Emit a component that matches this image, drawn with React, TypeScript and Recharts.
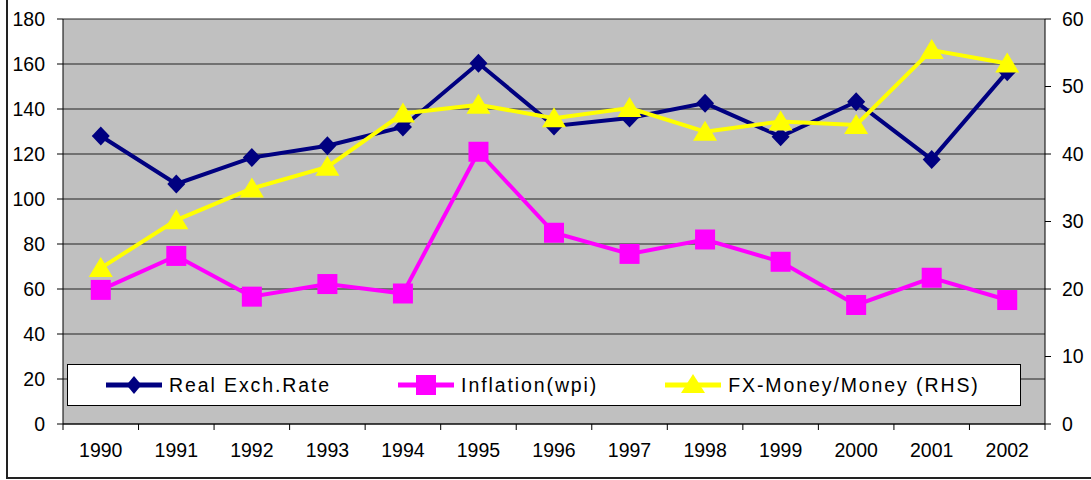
import { CartesianGrid, Legend, Line, LineChart, XAxis, YAxis } from "recharts";

const years = ["1990", "1991", "1992", "1993", "1994", "1995", "1996", "1997", "1998", "1999", "2000", "2001", "2002"];
const realExchRate = [128, 106.7, 118.4, 123.7, 132, 160.3, 132.5, 136, 142.6, 127.7, 143.2, 117.6, 156.6];
const inflation = [59.6, 74.7, 56.6, 62.2, 58, 121, 85, 75.6, 82, 72.1, 52.9, 65, 55.1];
const fxMoney = [23.1, 30.2, 34.9, 38.1, 46, 47.3, 45.3, 46.8, 43.3, 44.8, 44.3, 55.4, 53.4];
const leftTicks = [0, 20, 40, 60, 80, 100, 120, 140, 160, 180];
const rightTicks = [0, 10, 20, 30, 40, 50, 60];

const seriesNames = ["Real Exch.Rate", "Inflation(wpi)", "FX-Money/Money (RHS)"];

const data = years.map((year, i) => ({
  year,
  real: realExchRate[i],
  infl: inflation[i],
  fx: fxMoney[i],
}));

const FONT = "Arial, 'Liberation Sans', sans-serif";
const PLOT_W = 1091 - 63 - 46;
const BAND = PLOT_W / years.length;

const Diamond = (props: any) => {
  const { cx, cy, index } = props;
  if (cx == null || cy == null) return <g key={`d${index}`} />;
  return (
    <path
      key={`d${index}`}
      d={`M${cx},${cy - 9.5}L${cx + 9},${cy}L${cx},${cy + 9.5}L${cx - 9},${cy}Z`}
      fill="#000080"
    />
  );
};

const Square = (props: any) => {
  const { cx, cy, index } = props;
  if (cx == null || cy == null) return <g key={`s${index}`} />;
  return <rect key={`s${index}`} x={cx - 10} y={cy - 10} width={20} height={20} fill="#ff00ff" />;
};

const Triangle = (props: any) => {
  const { cx, cy, index } = props;
  if (cx == null || cy == null) return <g key={`t${index}`} />;
  return (
    <path
      key={`t${index}`}
      d={`M${cx},${cy - 11}L${cx + 12},${cy + 9}L${cx - 12},${cy + 9}Z`}
      fill="#ffff00"
    />
  );
};

const YearTick = (props: any) => {
  const { x, y, payload, index } = props;
  const left = x - BAND / 2;
  return (
    <g>
      <line x1={left} y1={y} x2={left} y2={y + 6} stroke="#000" />
      {index === years.length - 1 && (
        <line x1={x + BAND / 2} y1={y} x2={x + BAND / 2} y2={y + 6} stroke="#000" />
      )}
      <text x={x} y={y + 33} textAnchor="middle" fill="#000" fontSize={19.5} fontFamily={FONT}>
        {payload.value}
      </text>
    </g>
  );
};

const markers = [
  <path d="M28,-1L35.5,8L28,17L20.5,8Z" fill="#000080" />,
  <rect x={18} y={-2} width={20} height={20} fill="#ff00ff" />,
  <path d="M28,-3L40,16L16,16Z" fill="#ffff00" />,
];
const colors = ["#000080", "#ff00ff", "#ffff00"];

const LegendBox = () => (
  <div
    style={{
      width: 954,
      height: 42,
      border: "1px solid #000",
      background: "#fff",
      display: "flex",
      alignItems: "center",
      paddingLeft: 38,
      boxSizing: "border-box",
      fontFamily: FONT,
      fontSize: 19.5,
      letterSpacing: 1.9,
      color: "#000",
    }}
  >
    {seriesNames.map((name, i) => (
      <div key={name} style={{ display: "flex", alignItems: "center", marginRight: 67 }}>
        <svg width={56} height={16} style={{ overflow: "visible" }}>
          <line x1={0} y1={8} x2={56} y2={8} stroke={colors[i]} strokeWidth={5} />
          {markers[i]}
        </svg>
        <span style={{ marginLeft: 7, whiteSpace: "nowrap" }}>{name}</span>
      </div>
    ))}
  </div>
);

export default function App() {
  return (
    <div style={{ position: "absolute", left: 0, top: 0, width: 1091, height: 480, background: "#fff" }}>
      <div
        style={{
          position: "absolute",
          left: 6,
          top: 0,
          width: 1100,
          height: 477,
          borderLeft: "2px solid #222",
          borderBottom: "2px solid #222",
        }}
      />
      <LineChart
        width={1091}
        height={480}
        data={data}
        margin={{ top: 19, right: 0, left: 0, bottom: 0 }}
        style={{ position: "absolute", left: 0, top: 0 }}
      >
        <CartesianGrid yAxisId="left" vertical={false} fill="#c0c0c0" stroke="#222" />
        <XAxis
          dataKey="year"
          scale="band"
          height={56}
          axisLine={{ stroke: "#000" }}
          tickLine={false}
          tickSize={0}
          tickMargin={0}
          interval={0}
          tick={<YearTick />}
        />
        <YAxis
          yAxisId="left"
          domain={[0, 180]}
          ticks={leftTicks}
          width={63}
          axisLine={{ stroke: "#000" }}
          tickLine={{ stroke: "#000" }}
          tickSize={6}
          tickMargin={12}
          tick={{ fill: "#000", fontSize: 19.5, fontFamily: FONT }}
        />
        <YAxis
          yAxisId="right"
          orientation="right"
          domain={[0, 60]}
          ticks={rightTicks}
          width={46}
          axisLine={{ stroke: "#000" }}
          tickLine={{ stroke: "#000" }}
          tickSize={6}
          tickMargin={11}
          tick={{ fill: "#000", fontSize: 19.5, fontFamily: FONT, textAnchor: "start" }}
        />
        <Legend
          layout="horizontal"
          verticalAlign="middle"
          align="center"
          wrapperStyle={{ left: 67, top: 364, width: 954, height: 42 }}
          content={() => <LegendBox />}
        />
        <Line
          yAxisId="left"
          dataKey="real"
          stroke="#000080"
          strokeWidth={4}
          dot={Diamond}
          activeDot={false}
          isAnimationActive={false}
        />
        <Line
          yAxisId="left"
          dataKey="infl"
          stroke="#ff00ff"
          strokeWidth={4}
          dot={Square}
          activeDot={false}
          isAnimationActive={false}
        />
        <Line
          yAxisId="right"
          dataKey="fx"
          stroke="#ffff00"
          strokeWidth={4}
          dot={Triangle}
          activeDot={false}
          isAnimationActive={false}
        />
      </LineChart>
    </div>
  );
}
